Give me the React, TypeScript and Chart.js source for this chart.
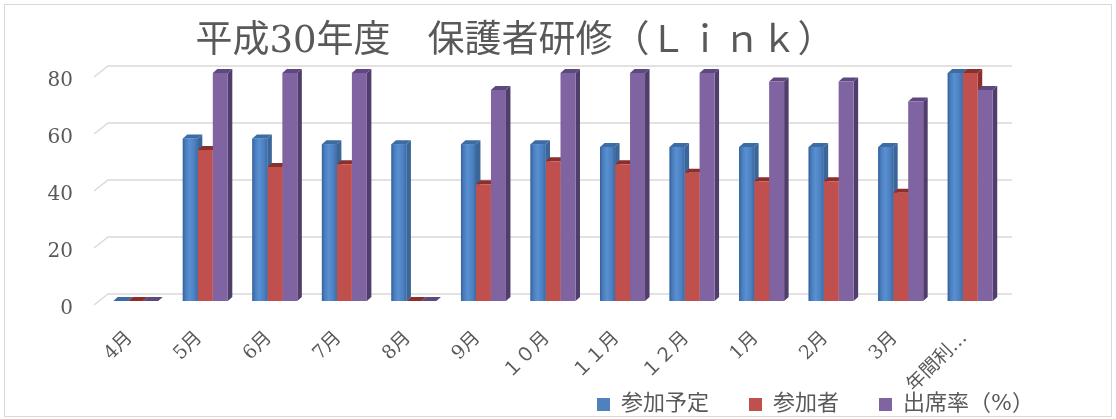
import React, { useEffect, useRef } from 'react';
import { Chart, registerables } from 'chart.js';

Chart.register(...registerables);

// ---- data ----
const categories = ['4月', '5月', '6月', '7月', '8月', '9月', '１０月', '１１月', '１２月', '1月', '2月', '3月', '年間利…'];
const planned = [0, 57, 57, 55, 55, 55, 55, 54, 54, 54, 54, 54, 80];
const attendees = [0, 53, 47, 48, 0, 41, 49, 48, 45, 42, 42, 38, 80];
const rate = [0, 80, 80, 80, 0, 74, 80, 80, 80, 77, 77, 70, 74];
const yTicks = [0, 20, 40, 60, 80];
const seriesNames = ['参加予定', '参加者', '出席率（%）'];
const titleText = '平成30年度　保護者研修（Ｌｉｎｋ）';

// ---- style ----
const FONT = '"DejaVu Serif", "Noto Sans CJK JP", serif';
const TEXT = '#595959';
const FRONT = ['#4F81BD', '#C0504D', '#8064A2'];
const SIDE = ['#3a6698', '#8e2f2c', '#4f3d6b'];
const TOP = ['#3d6ca3', '#8a2f2d', '#5d4880'];
const DX = 4.5;
const DY = -4;

const frame3d = {
  id: 'frame3d',
  beforeDraw(chart: any) {
    const { ctx } = chart;
    ctx.save();
    ctx.strokeStyle = '#d9d9d9';
    ctx.lineWidth = 1;
    ctx.strokeRect(4.5, 4.5, 1107, 412);
    ctx.restore();
  },
  afterLayout(chart: any) {
    const t = chart.titleBlock;
    if (t) {
      t.left = 0;
      t.right = 1030;
    }
    const lg = chart.legend;
    if (lg) {
      const h = lg.height;
      lg.left = 557;
      lg.right = 1116;
      lg.top = 353.5;
      lg.bottom = 353.5 + h;
    }
    const xs = chart.scales.x;
    if (xs) {
      xs.bottom = chart.height;
    }
  },
  beforeDatasetsDraw(chart: any) {
    const { ctx, chartArea: ca } = chart;
    const ys = chart.scales.y;
    ctx.save();
    ctx.strokeStyle = '#d9d9d9';
    ctx.lineWidth = 1.4;
    ys.ticks.forEach((t: any) => {
      const py = ys.getPixelForValue(t.value);
      ctx.beginPath();
      ctx.moveTo(ca.left - 7, py + 4);
      ctx.lineTo(ca.left + 7, py - 7);
      ctx.lineTo(ca.right + 7, py - 7);
      ctx.stroke();
    });
    chart.data.datasets.forEach((_ds: any, di: number) => {
      const meta = chart.getDatasetMeta(di);
      meta.data.forEach((el: any) => {
        const { x, y, base, width } = el.getProps(['x', 'y', 'base', 'width'], true);
        const l = x - width / 2;
        const r = x + width / 2;
        ctx.fillStyle = SIDE[di];
        ctx.beginPath();
        ctx.moveTo(r, base);
        ctx.lineTo(r + DX, base + DY);
        ctx.lineTo(r + DX, y + DY);
        ctx.lineTo(r, y);
        ctx.closePath();
        ctx.fill();
        ctx.fillStyle = TOP[di];
        ctx.beginPath();
        ctx.moveTo(l, y);
        ctx.lineTo(l + DX, y + DY);
        ctx.lineTo(r + DX, y + DY);
        ctx.lineTo(r, y);
        ctx.closePath();
        ctx.fill();
      });
    });
    ctx.restore();
  },
  afterDatasetsDraw(chart: any) {
    const { ctx } = chart;
    const meta = chart.getDatasetMeta(0);
    ctx.save();
    meta.data.forEach((el: any) => {
      const { x, y, base, width } = el.getProps(['x', 'y', 'base', 'width'], true);
      const l = x - width / 2;
      const h = base - y;
      if (h <= 0.5) return;
      const g = ctx.createLinearGradient(l, 0, l + width, 0);
      g.addColorStop(0, '#33629a');
      g.addColorStop(0.18, '#4a7cbb');
      g.addColorStop(0.45, '#5890d2');
      g.addColorStop(0.8, '#4c7fbf');
      g.addColorStop(1, '#3b6aa3');
      ctx.fillStyle = g;
      ctx.fillRect(l, y, width, h);
    });
    ctx.restore();
  },
};

export default function App() {
  const ref = useRef<HTMLCanvasElement>(null);
  useEffect(() => {
    const chart = new Chart(ref.current as HTMLCanvasElement, {
      type: 'bar',
      data: {
        labels: categories,
        datasets: [
          { label: seriesNames[0], data: planned, backgroundColor: FRONT[0], borderWidth: 0 },
          { label: seriesNames[1], data: attendees, backgroundColor: FRONT[1], borderWidth: 0 },
          { label: seriesNames[2], data: rate, backgroundColor: FRONT[2], borderWidth: 0 },
        ],
      },
      options: {
        responsive: false,
        animation: false,
        layout: { padding: { left: 0, right: 111, top: 0, bottom: 0 } },
        datasets: { bar: { categoryPercentage: 0.647, barPercentage: 1 } },
        plugins: {
          title: {
            display: true,
            text: titleText,
            color: TEXT,
            font: { family: FONT, size: 37, weight: 'normal' },
            padding: { top: 20, bottom: 8.6 },
          },
          legend: {
            position: 'bottom',
            align: 'start',
            labels: {
              boxWidth: 13,
              boxHeight: 13,
              padding: 40,
              color: TEXT,
              font: { family: FONT, size: 22 },
            },
          },
          tooltip: { enabled: false },
        },
        scales: {
          x: {
            grid: { display: false, drawTicks: false },
            border: { display: false },
            ticks: {
              minRotation: 45,
              maxRotation: 45,
              autoSkip: false,
              padding: 26,
              labelOffset: -6,
              color: TEXT,
              font: { family: FONT, size: 19 },
            },
            afterFit: (s: any) => {
              const lh = s.chart.legend ? s.chart.legend.height : 0;
              s.height = Math.max(10, 118 - lh);
            },
          },
          y: {
            min: 0,
            max: 80,
            afterBuildTicks: (s: any) => {
              s.ticks = yTicks.map((v) => ({ value: v }));
            },
            grid: { display: false, drawTicks: false },
            border: { display: false },
            ticks: {
              padding: 28,
              labelOffset: 8,
              color: TEXT,
              font: { family: FONT, size: 20 },
            },
            afterFit: (s: any) => {
              s.width = 101;
            },
          },
        },
      },
      plugins: [frame3d],
    } as any);
    return () => chart.destroy();
  }, []);
  return (
    <div style={{ position: 'absolute', left: 0, top: 0, width: 1116, height: 419, background: '#fff' }}>
      <canvas ref={ref} width={1116} height={419} style={{ display: 'block' }} />
    </div>
  );
}
